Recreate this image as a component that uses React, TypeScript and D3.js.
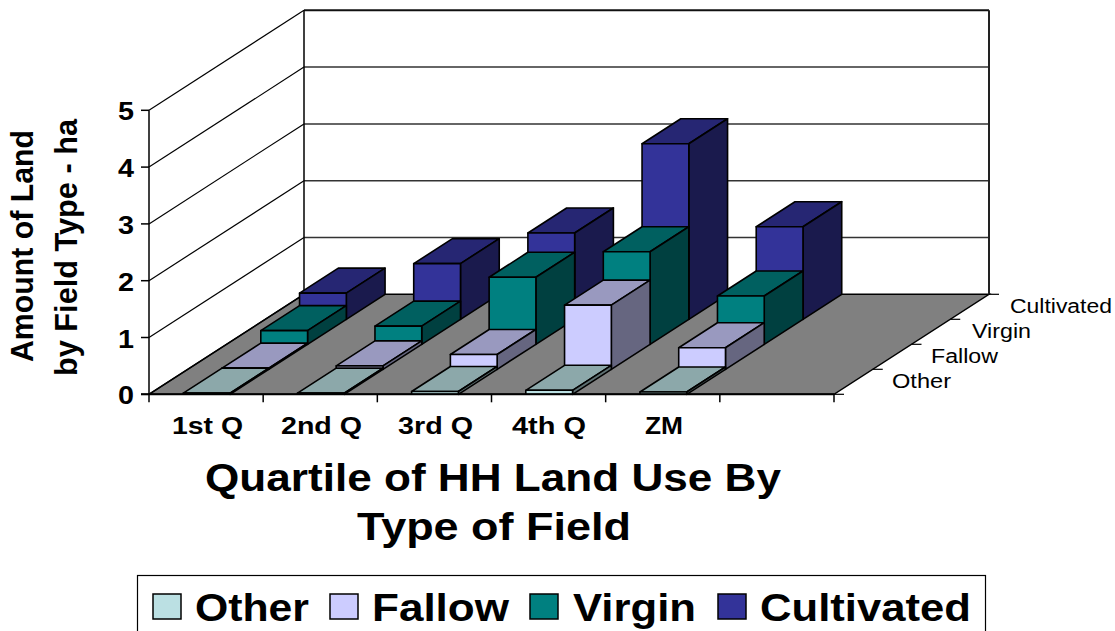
import React from "react";
import * as d3 from "d3";

const categories = ["1st Q", "2nd Q", "3rd Q", "4th Q", "ZM", ""];
const seriesNames = ["Other", "Fallow", "Virgin", "Cultivated"];
const other = [0.02, 0.02, 0.05, 0.07, 0.04];
const fallow = [0.02, 0.06, 0.26, 1.13, 0.38];
const virgin = [0.24, 0.32, 1.18, 1.63, 0.85];
const cultivated = [0.46, 0.98, 1.52, 3.09, 1.63];
const seriesValues = [other, fallow, virgin, cultivated];
const frontColors = ["#bbe0e3", "#ccccff", "#008080", "#333399"];
const valueTicks = [0, 1, 2, 3, 4, 5];
const legendBoxes = [
  { name: "Other", sx: 153, tx: 195, tw: 114 },
  { name: "Fallow", sx: 330, tx: 372, tw: 137 },
  { name: "Virgin", sx: 530, tx: 573, tw: 123 },
  { name: "Cultivated", sx: 718, tx: 760, tw: 211 },
];

const FONT = "'Liberation Sans', Arial, sans-serif";
const x = d3.scaleBand<number>().domain(d3.range(6)).range([149, 834]).paddingInner(0).paddingOuter(0);
const y = d3.scaleLinear().domain([0, 5]).range([394.3, 110.3]);
const depth = d3.scaleLinear().domain([0, 4]).range([0, 1]);
const DX = 155;
const DY = -100;
const BAR_INSET = 33.7;
const BAR_SHIFT = 0.6;

const pt = (px: number, value: number, d: number): [number, number] => [
  px + depth(d) * DX,
  y(value) + depth(d) * DY,
];
const poly = (pts: [number, number][]) => d3.line()(pts)! + "Z";
const shade = (c: string, k: number) => {
  const r = d3.rgb(c);
  return d3.rgb(r.r * k, r.g * k, r.b * k).formatHex();
};

function Bar({ cat, s, v }: { cat: number; s: number; v: number }) {
  const x0 = x(cat)! + BAR_INSET + BAR_SHIFT;
  const x1 = x(cat)! + x.bandwidth() - BAR_INSET + BAR_SHIFT;
  const c = frontColors[s];
  const st = { stroke: "#000", strokeWidth: 1.6, strokeLinejoin: "round" as const };
  return (
    <g>
      <path d={poly([pt(x0, v, s), pt(x1, v, s), pt(x1, v, s + 1), pt(x0, v, s + 1)])} fill={shade(c, 0.75)} {...st} />
      <path d={poly([pt(x1, 0, s), pt(x1, v, s), pt(x1, v, s + 1), pt(x1, 0, s + 1)])} fill={shade(c, 0.5)} {...st} />
      <path d={poly([pt(x0, 0, s), pt(x1, 0, s), pt(x1, v, s), pt(x0, v, s)])} fill={c} {...st} />
    </g>
  );
}

function T({ x: tx, y: ty, w, size, bold = true, anchor = "start", children, transform }: any) {
  return (
    <text
      x={tx}
      y={ty}
      fontFamily={FONT}
      fontSize={size}
      fontWeight={bold ? "bold" : "normal"}
      textAnchor={anchor}
      textLength={w}
      lengthAdjust="spacingAndGlyphs"
      transform={transform}
      fill="#000"
    >
      {children}
    </text>
  );
}

const xLabelBoxes = [
  [172, 71],
  [281, 81],
  [398, 75],
  [512, 74],
  [645, 38],
];
const depthLabelBoxes = [
  [892, 388, 59],
  [931, 363, 67],
  [972, 338, 59],
  [1010, 313, 102],
];

export default function App() {
  const xEnd = 834;
  const xStart = 149;
  return (
    <svg
      width={1115}
      height={631}
      style={{ position: "absolute", left: 0, top: 0, background: "#fff" }}
    >
      {/* floor */}
      <path
        d={poly([pt(xStart, 0, 0), pt(xEnd, 0, 0), pt(xEnd, 0, 4), pt(xStart, 0, 4)])}
        fill="#808080"
        stroke="#000"
        strokeWidth={1.5}
      />
      {/* gridlines */}
      {valueTicks.map((t) => (
        <g key={t}>
          <path d={d3.line()([pt(xStart, t, 0), pt(xStart, t, 4)])!} stroke="#000" strokeWidth={1.2} fill="none" />
          {t > 0 && (
            <path
              d={d3.line()([pt(xStart, t, 4), pt(xEnd, t, 4)])!}
              stroke={t === 5 ? "#111" : "#333"}
              strokeWidth={t === 5 ? 2 : 1.5}
              fill="none"
            />
          )}
          <path d={d3.line()([[pt(xStart, t, 0)[0] - 8, y(t)], pt(xStart, t, 0)])!} stroke="#000" strokeWidth={1.5} />
          <T x={118} y={y(t) + 10} w={16} size={26}>
            {t}
          </T>
        </g>
      ))}
      <path d={d3.line()([pt(xStart, 0, 0), pt(xStart, 5, 0)])!} stroke="#000" strokeWidth={1.5} />
      <path d={d3.line()([pt(xStart, 0, 4), pt(xStart, 5, 4)])!} stroke="#000" strokeWidth={1.5} />
      <path d={d3.line()([pt(xEnd, 0, 4), pt(xEnd, 5, 4)])!} stroke="#222" strokeWidth={2} />
      {/* bars */}
      {d3.range(3, -1, -1).map((s) =>
        seriesValues[s].map((v, c) => <Bar key={s + "-" + c} cat={c} s={s} v={v} />)
      )}
      {/* axis */}
      <path d={d3.line()([[xStart - 8, y(0)], [xEnd, y(0)]])!} stroke="#000" strokeWidth={2} />
      {categories.map((_, i) => (
        <path key={i} d={d3.line()([[x(i)!, y(0)], [x(i)!, y(0) + 8]])!} stroke="#000" strokeWidth={1.5} />
      ))}
      <path d={d3.line()([[xEnd, y(0)], [xEnd, y(0) + 8]])!} stroke="#000" strokeWidth={1.5} />
      {d3.range(5).map((d) => {
        const p = pt(xEnd, 0, d);
        return <path key={d} d={d3.line()([p, [p[0] + 10, p[1]]])!} stroke="#000" strokeWidth={1.2} />;
      })}
      {categories.slice(0, 5).map((c, i) => (
        <T key={c} x={xLabelBoxes[i][0]} y={433.5} w={xLabelBoxes[i][1]} size={23}>
          {c}
        </T>
      ))}
      {seriesNames.map((n, i) => (
        <T key={n} x={depthLabelBoxes[i][0]} y={depthLabelBoxes[i][1]} w={depthLabelBoxes[i][2]} size={20} bold={false}>
          {n}
        </T>
      ))}
      {/* axis titles */}
      <T x={0} y={0} w={232} size={31} anchor="middle" transform="translate(32.5,246) rotate(-90)">
        Amount of Land
      </T>
      <T x={0} y={0} w={257} size={31} anchor="middle" transform="translate(76.5,247.5) rotate(-90)">
        by Field Type - ha
      </T>
      <T x={205} y={491} w={576} size={39}>
        Quartile of HH Land Use By
      </T>
      <T x={357} y={539.5} w={274} size={39}>
        Type of Field
      </T>
      {/* legend */}
      <rect x={137.5} y={575.5} width={848} height={60} fill="#fff" stroke="#000" strokeWidth={1.2} />
      {legendBoxes.map((b, i) => (
        <g key={b.name}>
          <rect x={b.sx} y={594} width={28} height={25} fill={frontColors[i]} stroke="#000" strokeWidth={1.5} />
          <T x={b.tx} y={620.5} w={b.tw} size={38}>
            {b.name}
          </T>
        </g>
      ))}
    </svg>
  );
}
